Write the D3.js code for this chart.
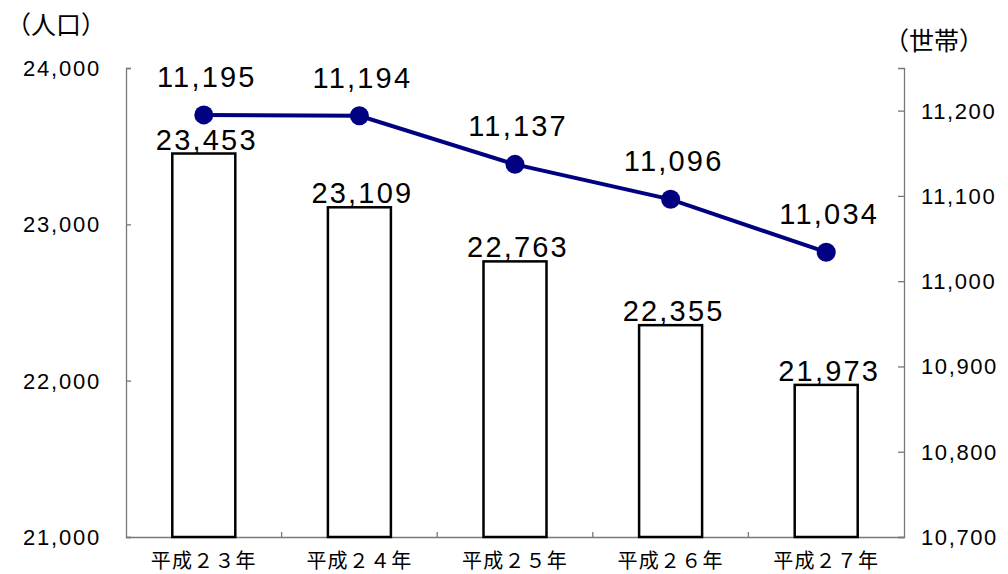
<!DOCTYPE html>
<html>
<head>
<meta charset="utf-8">
<script src="https://cdn.jsdelivr.net/npm/d3@7/dist/d3.min.js"></script>
<style>
body { margin: 0; background: #fff; }
svg text { fill: #000; }
.num { font-family: "Liberation Sans", Arial, sans-serif; }
.jp { font-family: "Noto Sans CJK JP", sans-serif; }
</style>
</head>
<body>
<svg id="chart" width="1008" height="574"></svg>
<script>
var years = ["平成２３年", "平成２４年", "平成２５年", "平成２６年", "平成２７年"];
var population = [23453, 23109, 22763, 22355, 21973];
var households = [11195, 11194, 11137, 11096, 11034];
var leftTicks = [21000, 22000, 23000, 24000];
var rightTicks = [10700, 10800, 10900, 11000, 11100, 11200];

var svg = d3.select("#chart");
var plotLeft = 126, plotRight = 904, plotTop = 68, plotBottom = 537;

var xScale = d3.scaleBand()
    .domain(years)
    .range([plotLeft, plotRight]);

var yLeft = d3.scaleLinear()
    .domain([21000, 24000])
    .range([plotBottom, plotTop]);

var yRight = d3.scaleLinear()
    .domain([10700, 11250])
    .range([plotBottom, plotTop]);

var fmt = d3.format(",");
var barWidth = 63;

//axes
var leftAxis = svg.append("g")
    .attr("transform", "translate(" + plotLeft + ",0)")
    .call(d3.axisRight(yLeft).tickValues(leftTicks).tickSize(5).tickFormat(""));
var rightAxis = svg.append("g")
    .attr("transform", "translate(" + plotRight + ",0)")
    .call(d3.axisLeft(yRight).tickValues(rightTicks).tickSize(6).tickFormat(""));
var bottomAxis = svg.append("g")
    .attr("transform", "translate(0," + plotBottom + ")")
    .call(d3.axisTop(xScale).tickSize(0).tickFormat(""));

[leftAxis, rightAxis, bottomAxis].forEach(function(a) {
    a.select(".domain").attr("stroke", "#777").attr("stroke-width", 1.3);
    a.selectAll(".tick line").attr("stroke", "#777").attr("stroke-width", 1.3);
});

//category separators
svg.append("g").selectAll("line")
    .data(years.slice(1))
    .enter().append("line")
    .attr("x1", function(d) { return xScale(d); })
    .attr("x2", function(d) { return xScale(d); })
    .attr("y1", plotBottom - 5)
    .attr("y2", plotBottom)
    .attr("stroke", "#777")
    .attr("stroke-width", 1.3);

//tick labels
svg.append("g").selectAll("text")
    .data(leftTicks)
    .enter().append("text")
    .attr("class", "num")
    .attr("x", 101)
    .attr("y", function(d) { return yLeft(d) + 8; })
    .attr("text-anchor", "end")
    .attr("font-size", 22)
    .attr("letter-spacing", 1.8)
    .text(function(d) { return fmt(d); });

svg.append("g").selectAll("text")
    .data(rightTicks)
    .enter().append("text")
    .attr("class", "num")
    .attr("x", 921)
    .attr("y", function(d) { return yRight(d) + 8; })
    .attr("font-size", 22)
    .attr("letter-spacing", 1.6)
    .text(function(d) { return fmt(d); });

svg.append("g").selectAll("text")
    .data(years)
    .enter().append("text")
    .attr("class", "jp")
    .attr("x", function(d) { return xScale(d) + xScale.bandwidth() / 2; })
    .attr("y", 568)
    .attr("text-anchor", "middle")
    .attr("font-size", 20)
    .attr("letter-spacing", 1.2)
    .text(function(d) { return d; });

svg.append("text").attr("class", "jp")
    .attr("x", 6).attr("y", 34).attr("font-size", 25)
    .text("（人口）");
svg.append("text").attr("class", "jp")
    .attr("x", 884).attr("y", 50).attr("font-size", 25)
    .text("（世帯）");

//bars
svg.append("g").selectAll("rect")
    .data(population)
    .enter().append("rect")
    .attr("x", function(d, i) { return xScale(years[i]) + xScale.bandwidth() / 2 - barWidth / 2; })
    .attr("y", function(d) { return yLeft(d); })
    .attr("width", barWidth)
    .attr("height", function(d) { return plotBottom - yLeft(d); })
    .attr("fill", "#fff")
    .attr("stroke", "#000")
    .attr("stroke-width", 2.5);

svg.append("g").selectAll("text")
    .data(population)
    .enter().append("text")
    .attr("class", "num")
    .attr("x", function(d, i) { return xScale(years[i]) + xScale.bandwidth() / 2 + 3; })
    .attr("y", function(d) { return yLeft(d) - 4; })
    .attr("text-anchor", "middle")
    .attr("font-size", 29)
    .attr("letter-spacing", 2.2)
    .text(function(d) { return fmt(d); });

//line
var line = d3.line()
    .x(function(d, i) { return xScale(years[i]) + xScale.bandwidth() / 2; })
    .y(function(d) { return yRight(d); });

svg.append("path")
    .datum(households)
    .attr("d", line)
    .attr("fill", "none")
    .attr("stroke", "#000080")
    .attr("stroke-width", 4);

svg.append("g").selectAll("circle")
    .data(households)
    .enter().append("circle")
    .attr("cx", function(d, i) { return xScale(years[i]) + xScale.bandwidth() / 2; })
    .attr("cy", function(d) { return yRight(d); })
    .attr("r", 9.5)
    .attr("fill", "#000080");

svg.append("g").selectAll("text")
    .data(households)
    .enter().append("text")
    .attr("class", "num")
    .attr("x", function(d, i) { return xScale(years[i]) + xScale.bandwidth() / 2 + 3; })
    .attr("y", function(d) { return yRight(d) - 28; })
    .attr("text-anchor", "middle")
    .attr("font-size", 29)
    .attr("letter-spacing", 2.2)
    .text(function(d) { return fmt(d); });
</script>
</body>
</html>
